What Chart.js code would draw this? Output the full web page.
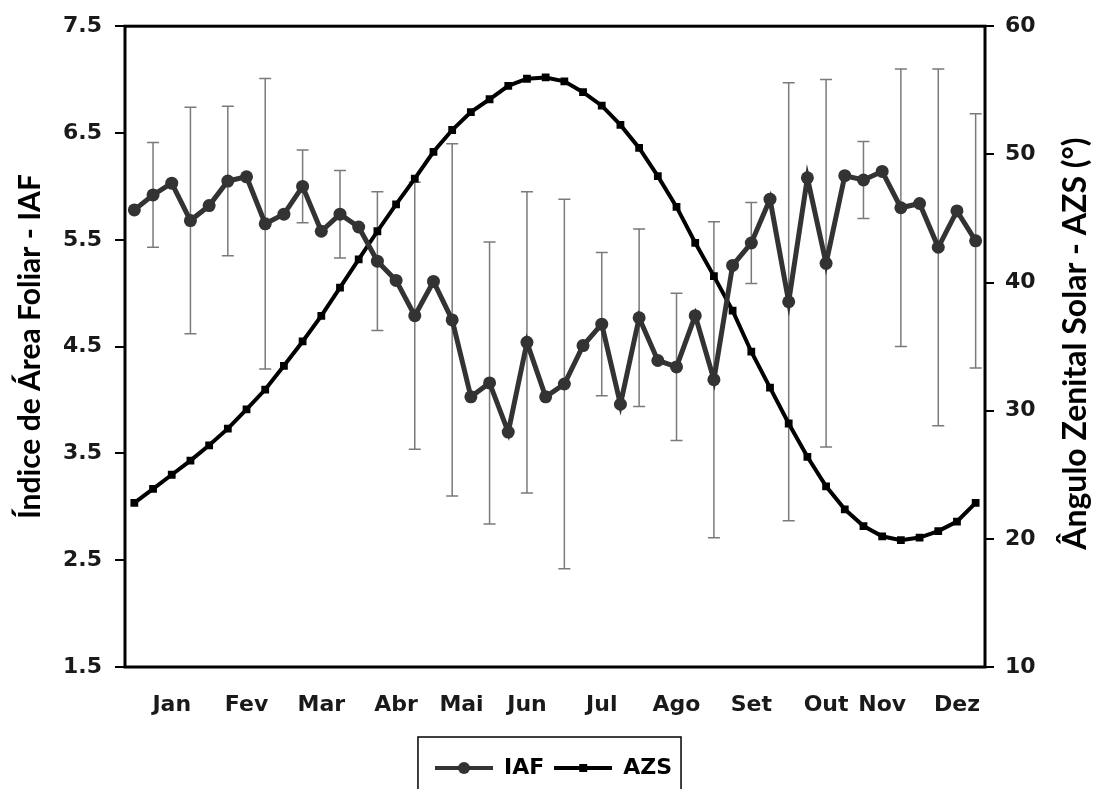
<!DOCTYPE html>
<html lang="pt">
<head>
  <meta charset="UTF-8">
  <title>IAF e AZS</title>
  <script src="https://cdn.jsdelivr.net/npm/chart.js"></script>
  <style>
    body { margin: 0; background: #fff; }
    canvas { display: block; }
  </style>
</head>
<body>
  <canvas id="grafico" width="1095" height="789"></canvas>
  <script>
    // 46 períodos de 8 dias ao longo do ano
    const iaf = [
      5.78, 5.92, 6.03, 5.68, 5.82, 6.05, 6.09, 5.65, 5.74, 6.00,
      5.58, 5.74, 5.62, 5.30, 5.12, 4.79, 5.11, 4.75, 4.03, 4.16,
      3.70, 4.54, 4.03, 4.15, 4.51, 4.71, 3.96, 4.77, 4.37, 4.31,
      4.79, 4.19, 5.26, 5.47, 5.88, 4.92, 6.08, 5.28, 6.10, 6.06,
      6.14, 5.80, 5.84, 5.43, 5.77, 5.49
    ];
    // desvio padrão (só em períodos alternados)
    const iafErro = [
      null, 0.49, null, 1.06, null, 0.70, null, 1.36, null, 0.34,
      null, 0.41, null, 0.65, null, 1.25, null, 1.65, null, 1.32,
      null, 1.41, null, 1.73, null, 0.67, null, 0.83, null, 0.69,
      null, 1.48, null, 0.38, null, 2.05, null, 1.72, null, 0.36,
      null, 1.30, null, 1.67, null, 1.19
    ];
    const azs = [
      22.8, 23.9, 25.0, 26.1, 27.3, 28.6, 30.1, 31.65, 33.5, 35.4,
      37.4, 39.6, 41.8, 44.0, 46.1, 48.1, 50.2, 51.9, 53.3, 54.3,
      55.35, 55.9, 56.0, 55.7, 54.85, 53.8, 52.3, 50.5, 48.3, 45.9,
      43.1, 40.5, 37.8, 34.6, 31.8, 29.0, 26.4, 24.1, 22.3, 21.0,
      20.2, 19.9, 20.1, 20.6, 21.35, 22.8
    ];
    const meses = ['Jan', 'Fev', 'Mar', 'Abr', 'Mai', 'Jun', 'Jul', 'Ago', 'Set', 'Out', 'Nov', 'Dez'];
    const posMeses = [2, 6, 10, 14, 17.5, 21, 25, 29, 33, 37, 40, 44];
    const ticksIaf = [1.5, 2.5, 3.5, 4.5, 5.5, 6.5, 7.5];
    const ticksAzs = [10, 20, 30, 40, 50, 60];

    const FONTE_TICK = '"DejaVu Sans"';
    const FONTE_TITULO = 'Lato';
    Chart.defaults.font.family = FONTE_TICK;
    Chart.defaults.color = '#1a1a1a';

    // símbolo da legenda: linha + marcador
    function simbolo(cor, largLinha, tipo) {
      const c = document.createElement('canvas');
      c.width = 58; c.height = 16;
      const g = c.getContext('2d');
      g.strokeStyle = cor; g.fillStyle = cor; g.lineWidth = largLinha;
      g.beginPath(); g.moveTo(0, 8); g.lineTo(58, 8); g.stroke();
      g.beginPath();
      if (tipo === 'circle') g.arc(29, 8, 6, 0, Math.PI * 2);
      else g.rect(25, 4, 8, 8);
      g.fill();
      return c;
    }
    const simbolos = [simbolo('#333', 4, 'circle'), simbolo('#000', 4, 'rect')];

    const barrasErro = {
      id: 'barrasErro',
      beforeDatasetsDraw(chart) {
        const {ctx, chartArea: a} = chart;
        const sx = chart.scales.x, sy = chart.scales.y;
        ctx.save();
        ctx.strokeStyle = '#000';
        ctx.lineWidth = 3;
        ctx.strokeRect(a.left, a.top, a.right - a.left, a.bottom - a.top);
        ctx.strokeStyle = '#7a7a7a';
        ctx.lineWidth = 1.5;
        iaf.forEach((v, i) => {
          const e = iafErro[i];
          if (e == null) return;
          const px = sx.getPixelForValue(i);
          const t = sy.getPixelForValue(v + e), b = sy.getPixelForValue(v - e);
          ctx.beginPath();
          ctx.moveTo(px, t); ctx.lineTo(px, b);
          ctx.moveTo(px - 6, t); ctx.lineTo(px + 6, t);
          ctx.moveTo(px - 6, b); ctx.lineTo(px + 6, b);
          ctx.stroke();
        });
        ctx.restore();
      },
      afterDraw(chart) {
        const {ctx, chartArea: a} = chart;
        // título do eixo direito, lido de baixo para cima
        ctx.save();
        ctx.translate(chart.scales.y2.right - 19, (a.top + a.bottom) / 2 - 3);
        ctx.rotate(-Math.PI / 2);
        ctx.font = 'bold 32px ' + FONTE_TITULO;
        ctx.fillStyle = '#000';
        ctx.textAlign = 'center';
        ctx.textBaseline = 'middle';
        ctx.fillText('Ângulo Zenital Solar - AZS (°)', 0, 0);
        ctx.restore();
        // moldura da legenda
        const hb = chart.legend.legendHitBoxes;
        if (hb && hb.length) {
          const l = hb[0].left - 17;
          const r = hb[hb.length - 1].left + hb[hb.length - 1].width + 9;
          ctx.save();
          ctx.strokeStyle = '#000';
          ctx.lineWidth = 1.5;
          ctx.strokeRect(l, chart.legend.top - 10, r - l, 100);
          ctx.restore();
        }
      }
    };

    new Chart(document.getElementById('grafico'), {
      type: 'line',
      data: {
        datasets: [{
          label: 'IAF',
          data: iaf.map((v, i) => ({x: i, y: v})),
          yAxisID: 'y',
          borderColor: '#333',
          backgroundColor: '#333',
          borderWidth: 5,
          pointStyle: 'circle',
          pointRadius: 6.5,
          pointBackgroundColor: '#333',
          pointBorderWidth: 0,
          tension: 0
        }, {
          label: 'AZS',
          data: azs.map((v, i) => ({x: i, y: v})),
          yAxisID: 'y2',
          borderColor: '#000',
          backgroundColor: '#000',
          borderWidth: 4,
          pointStyle: 'rect',
          pointRadius: 5.5,
          pointBackgroundColor: '#000',
          pointBorderWidth: 0,
          tension: 0
        }]
      },
      options: {
        responsive: false,
        animation: false,
        layout: { padding: { top: 20, left: 12, right: 0, bottom: 0 } },
        plugins: {
          tooltip: { enabled: false },
          legend: {
            position: 'bottom',
            labels: {
              usePointStyle: true,
              pointStyleWidth: 58,
              padding: 10,
              color: '#000',
              font: { size: 22, weight: 'bold' },
              generateLabels(chart) {
                const itens = Chart.defaults.plugins.legend.labels.generateLabels(chart);
                itens.forEach((it, i) => { it.pointStyle = simbolos[i]; });
                return itens;
              }
            }
          }
        },
        scales: {
          x: {
            type: 'linear',
            min: -0.5,
            max: 45.5,
            grid: { display: false, drawTicks: false },
            border: { display: false },
            afterBuildTicks: s => { s.ticks = posMeses.map(v => ({value: v})); },
            afterFit: s => { s.height = 80; },
            ticks: {
              autoSkip: false,
              maxRotation: 0,
              padding: 25,
              font: { size: 22, weight: 'bold' },
              callback: v => meses[posMeses.indexOf(v)]
            }
          },
          y: {
            position: 'left',
            min: 1.5,
            max: 7.5,
            afterBuildTicks: s => { s.ticks = ticksIaf.map(v => ({value: v})); },
            afterFit: s => { s.width = 113; },
            grid: { drawOnChartArea: false, drawTicks: true, tickLength: 10, color: '#000', lineWidth: 2 },
            border: { display: false },
            ticks: {
              padding: 13,
              font: { size: 22, weight: 'bold' },
              callback: v => v.toFixed(1)
            },
            title: {
              display: true,
              text: 'Índice de Área Foliar - IAF',
              color: '#000',
              font: { family: FONTE_TITULO, size: 30, weight: 'bold' },
              padding: { top: 0, bottom: 0 }
            }
          },
          y2: {
            position: 'right',
            min: 10,
            max: 60,
            afterBuildTicks: s => { s.ticks = ticksAzs.map(v => ({value: v})); },
            afterFit: s => { s.width = 110; },
            grid: { drawOnChartArea: false, drawTicks: true, tickLength: 9, color: '#000', lineWidth: 2 },
            border: { display: false },
            ticks: {
              padding: 11,
              font: { size: 22, weight: 'bold' }
            }
          }
        }
      },
      plugins: [barrasErro]
    });
  </script>
</body>
</html>
